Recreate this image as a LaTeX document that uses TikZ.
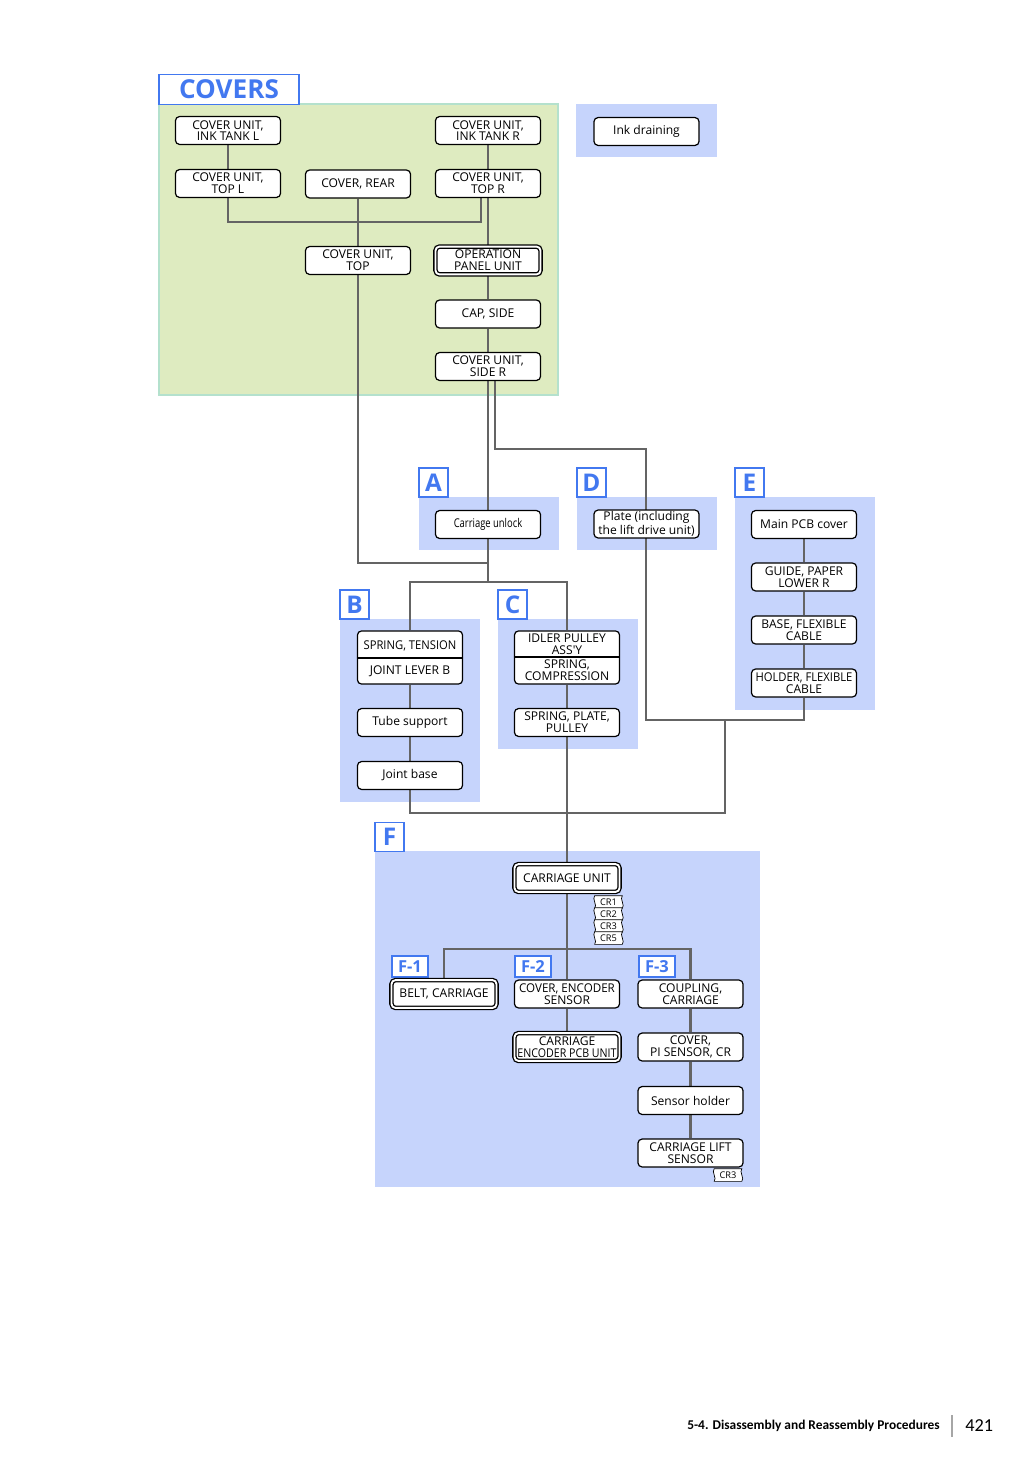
\documentclass[tikz,border=0pt]{standalone}
\usepackage{fontspec}
\setmainfont{Open Sans}
\newfontfamily\footfont{Carlito}

\definecolor{zblue}{RGB}{198,212,252}
\definecolor{zgreen}{RGB}{222,235,192}
\definecolor{zgreenline}{RGB}{180,225,205}
\definecolor{lblue}{RGB}{66,120,240}
\definecolor{linkgray}{RGB}{100,100,100}

\pgfdeclarelayer{background}
\pgfdeclarelayer{wires}
\pgfsetlayers{background,wires,main}

\newcommand{\boxfont}{\fontsize{6.95}{6.7}\selectfont}

% little tape label under a part
\newcommand{\crtag}[3]{%
  \node[crtext] (#1) at (#2) {#3};
  \begin{pgfonlayer}{wires}
    \draw[line width=0.4pt, fill=white] (#1.north west) -- (#1.north east)
      .. controls +(-3,3) and +(3,-3) .. (#1.south east) -- (#1.south west)
      .. controls +(3,-3) and +(-3,3) .. (#1.north west) -- cycle;
  \end{pgfonlayer}}

\begin{document}
\begin{tikzpicture}[x=0.575pt,y=-0.575pt]
    \tikzstyle{box} = [draw, rounded corners=2.3pt, fill=white, line width=0.7pt, minimum width=60.4pt, minimum height=16pt, inner sep=0pt, align=center, font=\boxfont];
    \tikzstyle{dbox} = [box, double, double distance=1.1pt, line width=0.75pt];
    \tikzstyle{tall} = [box, minimum height=30.5pt];
    \tikzstyle{plain} = [inner sep=0pt, align=center, font=\boxfont];
    \tikzstyle{tag} = [draw=lblue, fill=white, line width=0.7pt, text=lblue, font=\bfseries\fontsize{14}{14}\selectfont, minimum size=16.7pt, inner sep=0pt];
    \tikzstyle{subtag} = [tag, minimum width=20.7pt, minimum height=12pt, font=\bfseries\fontsize{9.5}{10}\selectfont];
    \tikzstyle{crtext} = [minimum width=15.5pt, minimum height=6.9pt, inner sep=0pt, font=\fontsize{5.3}{6}\selectfont];
    \tikzstyle{link} = [draw=linkgray, line width=1.4pt];

    \useasboundingbox (0,0) rectangle (1034,1462);

    % covers
    \node[tag, minimum width=80.5pt, minimum height=17.2pt, font=\bfseries\fontsize{15}{15}\selectfont] (covers) at (229,89.5) {COVERS};
    \node[box] (inkL) at (228,130.5) {COVER UNIT,\\INK TANK L};
    \node[box] (inkR) at (488,130.5) {COVER UNIT,\\INK TANK R};
    \node[box] (topL) at (228,183.5) {COVER UNIT,\\TOP L};
    \node[box] (rear) at (358,184) {COVER, REAR};
    \node[box] (topR) at (488,183.5) {COVER UNIT,\\TOP R};
    \node[box] (utop) at (358,260.5) {COVER UNIT,\\TOP};
    \node[dbox] (opp) at (488,260.5) {OPERATION\\PANEL UNIT};
    \node[box] (capside) at (488,314) {CAP, SIDE};
    \node[box] (sideR) at (488,366.5) {COVER UNIT,\\SIDE R};
    \node[box] (inkdrain) at (646.5,131.5) {Ink draining};

    % A, D, E
    \node[tag] (labA) at (433.5,482.5) {A};
    \node[box] (unlock) at (488,524.5) {\scalebox{0.78}[1]{Carriage unlock}};
    \node[tag] (labD) at (591.5,482.5) {D};
    \node[box] (plate) at (646.5,524) {Plate (including\\the lift drive unit)};
    \node[tag] (labE) at (749.5,482.5) {E};
    \node[box] (mainpcb) at (804,524.5) {Main PCB cover};
    \node[box] (guide) at (804,577) {GUIDE, PAPER\\LOWER R};
    \node[box] (basefc) at (804,630) {BASE, FLEXIBLE\\CABLE};
    \node[box] (holder) at (804,683) {\scalebox{0.93}[1]{HOLDER, FLEXIBLE}\\CABLE};

    % B, C
    \node[tag] (labB) at (354.5,604.5) {B};
    \node[tall] (springB) at (410,657.5) {};
    \node[plain] (springBtop) at (410,645.5) {\scalebox{0.93}[1]{SPRING, TENSION}};
    \node[plain] (springBbot) at (410,671.5) {JOINT LEVER B};
    \draw[line width=0.6pt] (springB.west |- 0,658) -- (springB.east |- 0,658);
    \node[box] (tube) at (410,722.5) {Tube support};
    \node[box] (jointb) at (410,775.5) {Joint base};
    \node[tag] (labC) at (512.5,604.5) {C};
    \node[tall] (idler) at (567,657.5) {};
    \node[plain] (idlertop) at (567,644.5) {IDLER PULLEY\\ASS\textquotesingle Y};
    \node[plain] (idlerbot) at (567,670.5) {SPRING,\\COMPRESSION};
    \draw[line width=0.6pt] (idler.west |- 0,657) -- (idler.east |- 0,657);
    \node[box] (sppulley) at (567,722.5) {SPRING, PLATE,\\PULLEY};

    % F
    \node[tag] (labF) at (389.5,837) {F};
    \node[dbox] (carriage) at (567,878) {CARRIAGE UNIT};
    \crtag{cra}{608.5,902}{CR1}
    \crtag{crb}{608.5,914}{CR2}
    \crtag{crc}{608.5,926}{CR3}
    \crtag{crd}{608.5,938}{CR5}
    \node[subtag] (labF1) at (410,966.5) {F-1};
    \node[subtag] (labF2) at (533,966.5) {F-2};
    \node[subtag] (labF3) at (657,966.5) {F-3};
    \node[dbox] (belt) at (444,994) {BELT, CARRIAGE};
    \node[box] (covenc) at (567,994) {\scalebox{0.96}[1]{COVER, ENCODER}\\SENSOR};
    \node[dbox] (pcbunit) at (567,1047) {CARRIAGE\\\scalebox{0.88}[1]{ENCODER PCB UNIT}};
    \node[box] (coupling) at (690.5,994) {COUPLING,\\CARRIAGE};
    \node[box] (coverpi) at (690.5,1047) {COVER,\\PI SENSOR, CR};
    \node[box] (sensorh) at (690.5,1100.5) {Sensor holder};
    \node[box] (lift) at (690.5,1153) {CARRIAGE LIFT\\SENSOR};
    \crtag{cre}{728,1175}{CR3}

    % footer
    \node[anchor=east, inner sep=0pt, font=\footfont\bfseries\fontsize{7.7}{9}\selectfont] (foottitle) at (940,1426) {5-4. Disassembly and Reassembly Procedures};
    \draw[black!35, line width=0.6pt] (952,1415) -- (952,1437);
    \node[anchor=west, inner sep=0pt, font=\footfont\fontsize{10.5}{11}\selectfont] (pageno) at (965,1426) {421};

    % junctions
    \coordinate (jcov) at (481,222);
    \coordinate (jut) at (488,563);
    \coordinate (jbc) at (488,582);
    \coordinate (jd) at (495,449);
    \coordinate (jde) at (646,720);
    \coordinate (jmid) at (725,720);
    \coordinate (jlow) at (725,813);
    \coordinate (jcar) at (567,949);

    \begin{pgfonlayer}{background}
      \fill[white] (0,0) rectangle (1034,1462);
      \filldraw[fill=zgreen, draw=zgreenline, line width=0.6pt] (159,104) rectangle (558,395);
      \fill[zblue] (576,104) rectangle (717,157);
      \fill[zblue] (419,497) rectangle (559,550);
      \fill[zblue] (577,497) rectangle (717,550);
      \fill[zblue] (735,497) rectangle (875,710);
      \fill[zblue] (340,619) rectangle (480,802);
      \fill[zblue] (498,619) rectangle (638,749);
      \fill[zblue] (375,851) rectangle (760,1187);
    \end{pgfonlayer}

    \begin{pgfonlayer}{wires}
      \draw[link] (inkL) -- (topL);
      \draw[link] (inkR) -- (topR);
      \draw[link] (topL) |- (jcov) -- (jcov |- topR.south);
      \draw[link] (rear) -- (utop);
      \draw[link] (topR) -- (opp);
      \draw[link] (opp) -- (capside);
      \draw[link] (capside) -- (sideR);
      \draw[link] (sideR) -- (unlock);
      \draw[link] (utop) |- (jut);
      \draw[link] (unlock) -- (jbc);
      \draw[link] (springB) |- (jbc);
      \draw[link] (jbc) -| (idler);
      \draw[link] (jd |- sideR.south) -- (jd) -| (jde) -- (jde -| holder) -- (holder);
      \draw[link] (mainpcb) -- (guide);
      \draw[link] (guide) -- (basefc);
      \draw[link] (basefc) -- (holder);
      \draw[link] (jmid) -- (jlow) -| (jointb);
      \draw[link] (springB) -- (tube);
      \draw[link] (tube) -- (jointb);
      \draw[link] (idler) -- (sppulley);
      \draw[link] (sppulley) -- (carriage);
      \draw[link] (carriage) -- (jcar);
      \draw[link] (belt) |- (jcar) -| (coupling);
      \draw[link] (jcar) -- (covenc);
      \draw[link] (covenc) -- (pcbunit);
      \draw[link] (coupling) -- (coverpi);
      \draw[link] (coverpi) -- (sensorh);
      \draw[link] (sensorh) -- (lift);
    \end{pgfonlayer}
\end{tikzpicture}
\end{document}
